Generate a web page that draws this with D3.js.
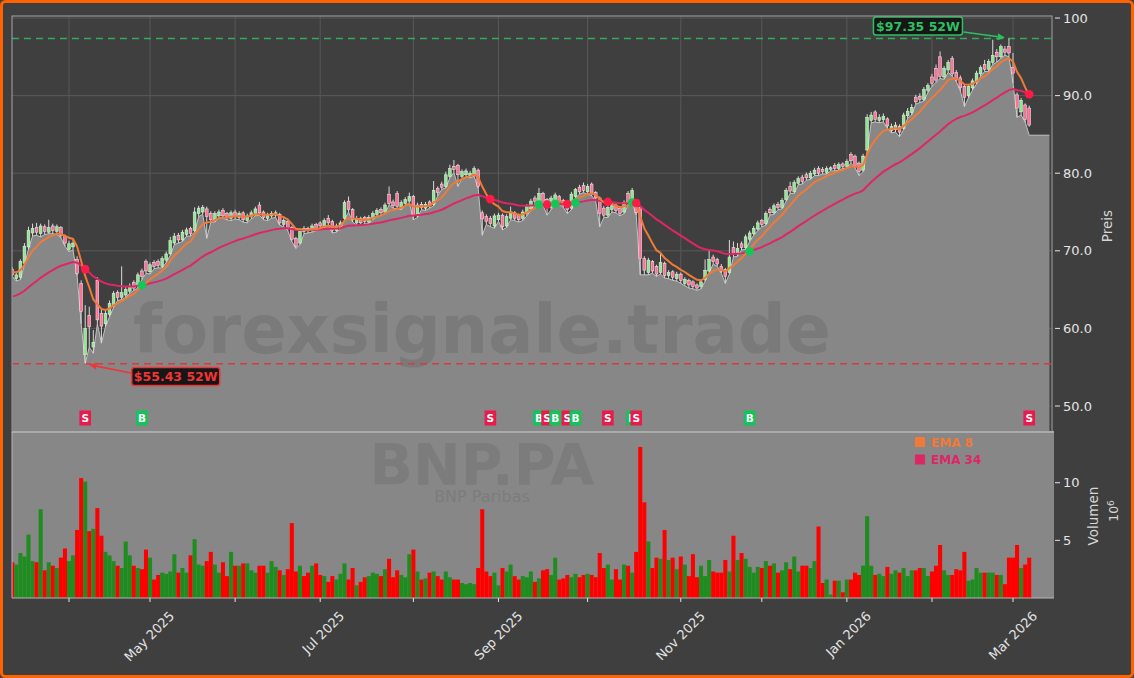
<!DOCTYPE html>
<html>
<head>
<meta charset="utf-8">
<script src="https://cdn.jsdelivr.net/npm/d3@7"></script>
<style>
  html, body { margin: 0; padding: 0; background: #3f3f3f; }
  #graph { width: 1134px; height: 678px; }
</style>
</head>
<body>
<div id="graph"></div>
<script>
///////////////////////////////////////////////////////////////////////////////
// Data (BNP.PA daily) //////////////////////////////////
///////////////////////////////////////////////////////////////////////////////

const firstDay = "2025-03-12";
const holidays = ["2025-04-18", "2025-04-21", "2025-05-01", "2025-12-25", "2025-12-26", "2026-01-01"];

const opens = [
  67.6, 66.4, 66.6, 68.4, 70.5, 72.3, 73.0, 72.2, 73.1, 72.4,
  73.2, 72.5, 73.0, 71.9, 70.2, 70.5, 68.9, 65.8, 56.6, 61.7,
  57.6, 66.2, 61.9, 60.6, 61.8, 63.0, 64.6, 64.0, 64.3, 64.8,
  65.9, 65.4, 67.4, 68.6, 67.3, 68.5, 68.6, 68.0, 68.8, 69.6,
  71.0, 72.0, 71.4, 72.1, 72.9, 72.6, 74.8, 75.0, 75.4, 74.8,
  74.0, 74.5, 75.2, 74.8, 74.2, 75.0, 74.3, 74.9, 73.9, 74.4,
  74.8, 75.9, 75.0, 74.2, 74.5, 74.6, 74.7, 73.4, 73.8, 73.0,
  71.6, 71.0, 72.9, 72.9, 72.6, 73.4, 73.6, 73.2, 74.2, 73.8,
  72.6, 73.0, 74.2, 76.4, 75.3, 73.6, 74.2, 74.3, 73.7, 74.2,
  74.7, 75.3, 75.0, 77.3, 76.3, 77.4, 75.6, 76.1, 76.4, 77.0,
  74.5, 76.0, 75.5, 76.3, 76.0, 78.0, 78.6, 78.3, 79.6, 80.9,
  81.0, 79.6, 79.8, 79.7, 79.8, 80.4, 74.9, 74.4, 74.2, 73.2,
  74.0, 74.6, 73.2, 74.2, 74.9, 74.6, 74.2, 74.8, 75.4, 76.8,
  76.3, 77.4, 76.6, 75.6, 76.2, 77.0, 76.5, 76.0, 75.5, 77.0,
  78.2, 78.4, 77.6, 78.6, 77.5, 76.8, 75.5, 74.6, 75.3, 75.9,
  75.5, 75.0, 77.4, 76.5, 76.0, 75.6, 69.0, 67.2, 68.6, 68.0,
  67.2, 68.4, 66.8, 67.3, 66.4, 67.0, 65.8, 66.2, 66.0, 65.6,
  65.4, 66.3, 67.4, 69.2, 68.9, 68.0, 67.6, 67.2, 70.4, 69.6,
  70.9, 70.4, 71.5, 72.2, 72.8, 73.9, 73.5, 75.3, 74.9, 76.0,
  75.6, 76.6, 78.3, 77.6, 78.7, 79.5, 79.8, 79.4, 79.9, 80.6,
  80.5, 80.1, 80.5, 81.0, 80.6, 81.2, 80.9, 82.4, 82.2, 81.3,
  80.4, 83.0, 86.8, 87.9, 86.8, 86.9, 87.0, 85.5, 85.6, 86.0,
  85.8, 87.4, 87.8, 89.8, 89.9, 89.5, 90.7, 92.4, 93.5, 95.0,
  92.4, 93.3, 94.8, 93.0, 92.3, 91.2, 90.0, 91.0, 91.8, 92.8,
  94.0, 93.4, 94.3, 95.6, 95.0, 96.0, 96.3, 93.6, 90.1, 87.9,
  88.8, 88.4,
];

const highs = [
  67.9, 67.3, 68.9, 71.0, 73.1, 73.5, 73.6, 73.5, 73.4, 74.0,
  73.5, 73.4, 73.2, 72.1, 71.3, 71.4, 69.3, 66.2, 63.0, 62.8,
  59.8, 66.6, 62.5, 62.4, 63.6, 64.8, 64.9, 68.0, 65.4, 65.8,
  66.2, 67.2, 67.7, 68.9, 68.5, 68.8, 68.9, 69.3, 69.9, 71.8,
  72.3, 72.3, 72.7, 73.0, 73.1, 75.6, 75.8, 75.9, 75.7, 75.1,
  75.1, 75.3, 75.5, 75.0, 75.2, 75.3, 75.1, 75.1, 74.8, 75.2,
  75.7, 76.3, 75.2, 74.9, 75.1, 75.2, 74.9, 74.2, 74.0, 73.2,
  71.8, 72.9, 73.2, 73.1, 73.5, 73.6, 73.8, 74.2, 74.6, 74.0,
  73.5, 73.9, 76.5, 77.0, 75.5, 74.5, 74.4, 74.5, 74.6, 75.1,
  75.5, 75.6, 76.2, 78.3, 76.6, 77.7, 76.5, 76.9, 77.5, 77.2,
  76.2, 76.3, 76.3, 76.5, 79.0, 78.3, 78.9, 80.2, 81.1, 81.7,
  81.2, 80.5, 80.6, 80.3, 80.9, 80.6, 75.2, 74.7, 74.5, 74.8,
  74.9, 74.8, 74.7, 75.7, 75.1, 74.8, 75.3, 76.0, 76.7, 77.1,
  78.1, 77.6, 76.8, 77.1, 77.5, 77.2, 76.7, 76.2, 77.6, 78.1,
  78.5, 78.8, 78.6, 78.8, 77.7, 77.0, 75.8, 75.9, 76.1, 76.1,
  75.7, 76.5, 77.7, 78.1, 76.2, 75.8, 69.3, 69.1, 68.8, 68.2,
  69.7, 68.6, 67.5, 67.5, 67.3, 67.2, 66.6, 66.4, 66.2, 65.8,
  66.3, 68.9, 70.1, 69.5, 69.1, 68.3, 67.8, 71.4, 71.2, 71.0,
  71.2, 72.1, 72.6, 73.2, 73.9, 74.1, 75.1, 75.6, 76.1, 76.3,
  76.8, 78.1, 78.9, 79.1, 79.6, 79.8, 80.1, 80.3, 80.7, 80.9,
  80.8, 80.9, 80.9, 81.3, 81.4, 81.4, 81.8, 82.7, 82.4, 81.5,
  82.5, 87.6, 87.9, 88.1, 87.6, 87.7, 87.2, 86.4, 86.6, 86.3,
  87.8, 88.4, 88.9, 90.1, 90.3, 91.1, 91.6, 92.8, 94.0, 95.7,
  93.8, 94.6, 95.1, 93.3, 92.6, 91.5, 91.5, 92.2, 93.2, 93.9,
  94.6, 94.7, 97.2, 96.0, 96.6, 96.4, 97.35, 95.5, 90.4, 89.7,
  89.0, 88.7,
];

const lows = [
  66.7, 66.1, 66.3, 68.2, 70.2, 71.9, 72.0, 71.8, 72.1, 72.2,
  72.2, 72.1, 71.7, 70.6, 69.9, 70.1, 66.8, 60.6, 55.43, 57.6,
  56.8, 60.6, 58.1, 60.2, 61.5, 62.7, 63.6, 63.7, 64.0, 64.5,
  64.9, 65.2, 66.3, 67.1, 67.0, 67.7, 67.8, 67.8, 68.5, 69.4,
  70.8, 71.0, 71.2, 71.9, 71.9, 72.4, 74.4, 74.7, 71.6, 73.7,
  73.7, 74.2, 74.2, 74.0, 73.9, 74.1, 74.0, 73.7, 73.6, 74.1,
  74.5, 74.6, 74.0, 73.9, 74.2, 74.3, 73.3, 73.1, 72.6, 71.2,
  70.3, 70.8, 72.2, 72.3, 72.4, 72.6, 72.9, 73.0, 73.3, 72.3,
  72.4, 72.8, 74.0, 75.0, 73.7, 73.3, 73.3, 73.5, 73.5, 74.0,
  74.4, 74.6, 74.8, 75.9, 75.5, 75.4, 75.3, 75.8, 76.2, 74.0,
  74.3, 75.3, 75.2, 75.5, 75.8, 77.1, 77.9, 78.1, 79.4, 80.1,
  78.3, 79.3, 79.5, 79.4, 79.6, 78.0, 72.0, 73.4, 73.1, 72.9,
  73.8, 72.7, 73.0, 74.0, 73.9, 73.7, 73.9, 74.5, 75.2, 76.1,
  76.0, 75.9, 74.6, 75.3, 75.9, 76.0, 75.6, 74.8, 75.3, 76.8,
  77.3, 77.5, 77.3, 77.1, 76.4, 73.1, 74.3, 74.3, 75.0, 74.9,
  74.5, 74.8, 75.9, 76.2, 74.6, 66.9, 66.9, 66.9, 67.1, 66.7,
  67.0, 66.5, 66.4, 66.2, 66.1, 65.8, 65.5, 65.2, 65.1, 64.9,
  65.1, 66.1, 67.2, 68.3, 68.0, 67.1, 65.8, 67.0, 69.2, 69.3,
  70.1, 70.2, 71.2, 72.0, 72.6, 73.1, 73.3, 74.6, 74.7, 75.3,
  75.4, 76.4, 77.4, 77.4, 78.5, 78.6, 79.1, 79.2, 79.7, 79.7,
  79.9, 79.9, 80.3, 80.3, 80.4, 80.6, 80.7, 81.3, 80.7, 79.7,
  80.2, 82.8, 86.5, 86.6, 86.5, 86.6, 85.8, 85.2, 85.3, 84.7,
  85.6, 87.1, 87.5, 88.9, 89.1, 89.3, 90.4, 91.2, 91.7, 92.2,
  92.1, 93.0, 92.5, 91.8, 90.6, 88.6, 89.7, 90.7, 91.5, 92.5,
  93.1, 93.1, 94.0, 94.3, 94.8, 95.2, 95.0, 91.6, 87.2, 87.5,
  86.6, 86.0,
];

const closes = [
  66.9, 66.9, 68.6, 70.6, 72.6, 72.9, 72.4, 73.2, 72.5, 73.0,
  72.6, 73.1, 72.0, 71.0, 70.9, 71.0, 67.1, 62.2, 60.0, 60.2,
  58.2, 61.1, 60.3, 61.9, 63.2, 64.5, 64.0, 64.6, 65.0, 65.4,
  65.2, 66.9, 66.7, 67.4, 68.2, 68.0, 68.1, 69.0, 69.6, 71.3,
  71.9, 71.4, 72.4, 72.7, 72.2, 75.0, 75.5, 75.6, 74.4, 74.0,
  74.8, 75.0, 74.5, 74.3, 74.9, 74.4, 74.8, 74.0, 74.5, 74.9,
  75.4, 74.9, 74.3, 74.6, 74.8, 74.9, 73.6, 73.9, 72.9, 71.5,
  70.6, 72.6, 72.5, 72.6, 73.2, 72.9, 73.2, 73.9, 73.6, 72.6,
  73.2, 73.6, 76.2, 75.3, 74.0, 74.1, 73.6, 73.8, 74.3, 74.8,
  75.2, 74.9, 75.9, 76.1, 75.8, 75.7, 76.2, 76.6, 77.0, 74.5,
  75.9, 75.6, 76.0, 75.8, 77.8, 77.5, 78.2, 79.8, 80.6, 80.5,
  79.8, 80.2, 80.3, 80.0, 80.6, 78.3, 74.1, 73.8, 73.5, 74.5,
  74.6, 73.1, 74.4, 75.0, 74.2, 74.0, 75.0, 75.7, 76.4, 76.4,
  77.4, 76.2, 75.8, 76.8, 77.2, 76.3, 75.9, 75.3, 77.3, 77.9,
  77.6, 77.8, 78.3, 77.4, 76.8, 74.8, 74.6, 75.6, 75.8, 75.2,
  74.8, 76.2, 76.2, 77.8, 74.9, 69.0, 67.5, 68.8, 67.4, 67.0,
  68.5, 66.8, 67.2, 66.6, 67.0, 66.2, 66.3, 65.6, 65.4, 65.2,
  66.0, 67.5, 68.9, 68.6, 68.3, 67.4, 66.7, 69.2, 69.5, 70.3,
  70.4, 71.8, 72.3, 72.9, 73.6, 73.4, 74.8, 74.9, 75.8, 75.6,
  76.5, 77.8, 77.7, 78.8, 79.3, 78.9, 79.4, 80.0, 80.4, 80.0,
  80.2, 80.6, 80.7, 80.6, 81.1, 80.9, 81.5, 81.6, 81.0, 80.2,
  82.2, 87.2, 87.5, 86.9, 87.2, 87.3, 86.1, 86.0, 86.2, 85.3,
  87.5, 88.0, 88.5, 89.2, 89.5, 90.8, 91.3, 91.6, 92.0, 92.5,
  93.5, 94.3, 92.8, 92.2, 91.0, 89.8, 91.2, 91.9, 92.9, 93.6,
  93.4, 94.4, 95.2, 95.0, 96.3, 95.6, 95.5, 92.9, 88.4, 89.4,
  86.9, 86.2,
];

// Volume in millions of shares
const volumes = [
  3.1, 2.9, 3.9, 3.6, 5.5, 3.2, 3.1, 7.7, 2.4, 3.1,
  2.8, 2.6, 3.5, 4.3, 3.2, 3.7, 5.9, 10.4, 10.1, 5.8,
  6.0, 7.8, 5.4, 4.0, 3.7, 3.2, 2.8, 2.6, 4.9, 3.7,
  2.8, 2.6, 2.5, 4.2, 3.5, 1.6, 2.0, 2.2, 2.1, 2.3,
  3.8, 2.2, 2.6, 2.2, 3.7, 5.1, 2.9, 2.8, 3.2, 4.0,
  2.9, 2.2, 3.1, 1.9, 4.0, 2.8, 2.8, 3.0, 3.0, 2.4,
  2.2, 2.8, 2.8, 2.2, 3.2, 2.7, 2.4, 2.0, 2.5, 6.5,
  2.3, 2.8, 1.9, 2.2, 2.8, 3.0, 2.0, 1.9, 1.4, 1.9,
  1.6, 2.1, 3.0, 1.6, 2.6, 1.1, 1.4, 1.8, 1.9, 2.2,
  2.1, 1.9, 2.5, 3.4, 1.8, 2.4, 2.0, 1.8, 3.8, 4.2,
  2.3, 1.6, 1.7, 2.2, 2.3, 1.9, 1.6, 2.3, 1.8, 1.6,
  1.6, 1.3, 1.2, 1.3, 1.2, 2.6, 7.7, 2.3, 1.9, 2.2,
  1.1, 2.6, 2.3, 2.9, 1.9, 1.6, 1.9, 1.8, 2.3, 1.4,
  1.7, 2.4, 2.5, 2.0, 3.5, 1.6, 1.7, 2.0, 1.8, 2.1,
  1.8, 2.0, 2.1, 2.0, 1.8, 3.9, 2.6, 2.9, 1.6, 2.5,
  1.6, 2.9, 2.8, 2.2, 4.0, 13.1, 8.3, 4.9, 2.6, 3.5,
  3.4, 5.9, 3.3, 3.5, 2.5, 3.6, 2.9, 1.9, 3.8, 1.8,
  2.8, 1.9, 3.3, 2.3, 2.2, 2.2, 3.3, 2.3, 5.4, 3.3,
  3.9, 3.4, 2.7, 2.2, 2.7, 2.6, 3.2, 2.8, 3.0, 2.2,
  2.4, 3.1, 2.5, 3.6, 2.3, 2.8, 2.8, 2.6, 3.2, 6.2,
  1.3, 1.6, 0.3, 1.5, 1.5, 0.5, 1.6, 1.6, 2.2, 2.0,
  2.8, 7.1, 2.8, 2.0, 2.1, 1.9, 2.7, 2.1, 2.4, 2.2,
  2.6, 1.9, 2.4, 2.4, 2.6, 2.6, 1.9, 2.3, 2.8, 4.6,
  2.4, 2.0, 2.0, 2.5, 2.4, 4.0, 1.5, 1.6, 2.6, 2.2,
  2.2, 2.2, 2.2, 2.0, 2.0, 1.2, 3.5, 3.5, 4.6, 2.6,
  2.9, 3.5,
];

// Latest quote, where the shaded area ends on the right
const lastQuote = 84.9;

// EMA values carried in from before the window (left edge of the picture)
const emaFastSeed = 67.3;
const emaSlowSeed = 64.1;

// Trading-day indices of the crossover signals
const sellSignals = [18, 118, 132, 137, 147, 154, 251];
const buySignals = [32, 130, 134, 139, 153, 182];

const priceTicks = [50, 60, 70, 80, 90, 100];
const volumeTicks = [5, 10];

///////////////////////////////////////////////////////////////////////////////
// Layout /////////////////////////////////////////////////////////////////////
///////////////////////////////////////////////////////////////////////////////

const W = 1134;
const H = 678;
const panel = { left: 12, right: 1052, top: 16, split: 432, bottom: 598 };
const slot = 4.0515; // px per trading day

const colors = {
  bg: "#3f3f3f",
  shade: "#878787",
  grid: "#595959",
  frame: "#a3a3a3",
  text: "#e4e4e4",
  emaFast: "#f07a36",
  emaSlow: "#de2667",
  up: "#8fe88f",
  down: "#ff7096",
  volUp: "#1f8c1f",
  volDown: "#ff0000",
  buy: "#12c45a",
  sell: "#ea1a4c",
  high: "#2fbf63",
  low: "#f03535",
};

const font = "'DejaVu Sans', Verdana, sans-serif";

/**
 * Weekdays from `from`, skipping exchange holidays, until `count` are found.
 */
function tradingDays(from, count) {
  const skip = new Set(holidays);
  const days = [];
  const d = new Date(from + "T00:00:00Z");
  while (days.length < count) {
    const wd = d.getUTCDay();
    if (wd !== 0 && wd !== 6 && !skip.has(d.toISOString().slice(0, 10))) {
      days.push(new Date(d));
    }
    d.setUTCDate(d.getUTCDate() + 1);
  }
  return days;
}

function ema(values, period, seed) {
  const k = 2 / (period + 1);
  let prev = seed;
  return values.map((v, i) => (prev = i === 0 ? seed : prev + k * (v - prev)));
}

const dates = tradingDays(firstDay, closes.length);
const rows = closes.map((c, i) => ({
  i,
  o: opens[i],
  h: highs[i],
  l: lows[i],
  c,
  v: volumes[i],
  up: c >= opens[i],
}));
const emaFast = ema(closes, 8, emaFastSeed);
const emaSlow = ema(closes, 34, emaSlowSeed);

// First trading day of each month (index 0 is mid-month, so skip it)
const monthStarts = dates
  .map((d, i) => ({ d, i }))
  .filter(({ d, i }) => i > 0 && d.getUTCMonth() !== dates[i - 1].getUTCMonth());

const x = d3.scaleLinear().domain([0, 256]).range([12.28, 12.28 + 256 * slot]);
const yPrice = d3.scaleLinear().domain([46.65, 100.26]).range([panel.split, panel.top]);
const yVol = d3.scaleLinear().domain([0, 14.4]).range([panel.bottom, panel.split]);

///////////////////////////////////////////////////////////////////////////////
// Drawing ////////////////////////////////////////////////////////////////////
///////////////////////////////////////////////////////////////////////////////

const svg = d3
  .select("#graph")
  .append("svg")
  .attr("width", W)
  .attr("height", H)
  .style("font-family", font);

// Orange outer frame
svg
  .append("rect")
  .attr("x", 1.5)
  .attr("y", 1.5)
  .attr("width", W - 3)
  .attr("height", H - 3)
  .attr("rx", 4)
  .style("fill", colors.bg)
  .style("stroke", "#ff6200")
  .style("stroke-width", 3);

const defs = svg.append("defs");
defs
  .append("clipPath")
  .attr("id", "priceClip")
  .append("rect")
  .attr("x", panel.left)
  .attr("y", panel.top)
  .attr("width", panel.right - panel.left)
  .attr("height", panel.split - panel.top);
defs
  .append("clipPath")
  .attr("id", "volClip")
  .append("rect")
  .attr("x", panel.left)
  .attr("y", panel.split)
  .attr("width", panel.right + 2 - panel.left)
  .attr("height", panel.bottom - panel.split);

[["arrowHigh", colors.high], ["arrowLow", colors.low]].forEach(([id, c]) => {
  defs
    .append("marker")
    .attr("id", id)
    .attr("viewBox", "0 0 10 10")
    .attr("refX", 9)
    .attr("refY", 5)
    .attr("markerWidth", 7)
    .attr("markerHeight", 7)
    .attr("markerUnits", "userSpaceOnUse")
    .attr("orient", "auto")
    .append("path")
    .attr("d", "M0,0 L10,5 L0,10 z")
    .style("fill", c);
});

// ---- Price panel ------------------------------------------------------------
const price = svg.append("g").attr("clip-path", "url(#priceClip)");

// Grid
price
  .selectAll(".hgrid")
  .data(priceTicks)
  .enter()
  .append("line")
  .attr("x1", panel.left)
  .attr("x2", panel.right)
  .attr("y1", d => yPrice(d))
  .attr("y2", d => yPrice(d))
  .style("stroke", colors.grid)
  .style("stroke-width", 1);
price
  .selectAll(".vgrid")
  .data(monthStarts)
  .enter()
  .append("line")
  .attr("x1", d => x(d.i))
  .attr("x2", d => x(d.i))
  .attr("y1", panel.top)
  .attr("y2", panel.split)
  .style("stroke", colors.grid)
  .style("stroke-width", 1);

// Shaded area under the daily lows, flat after the last quote
const areaPts = rows.slice(0, -1).map(d => [d.i, d.l]);
areaPts.push([rows.length - 1, lastQuote], [256, lastQuote]);
price
  .append("path")
  .datum(areaPts)
  .attr(
    "d",
    d3
      .area()
      .x(d => x(d[0]))
      .y0(panel.split)
      .y1(d => yPrice(d[1]))
  )
  .style("fill", colors.shade);
price
  .append("path")
  .datum(areaPts)
  .attr(
    "d",
    d3
      .line()
      .x(d => x(d[0]))
      .y(d => yPrice(d[1]))
  )
  .style("fill", "none")
  .style("stroke", "#c2c2c2")
  .style("stroke-width", 1);

// Watermark
price
  .append("text")
  .attr("x", 482)
  .attr("y", 353)
  .attr("text-anchor", "middle")
  .style("font-size", "67px")
  .style("font-weight", "bold")
  .style("fill", "#7a7a7a")
  .text("forexsignale.trade");

// 52-week high / low dashed lines
const hiIdx = d3.maxIndex(highs);
const loIdx = d3.minIndex(lows);
[
  [highs[hiIdx], colors.high, 0.85],
  [lows[loIdx], "#dc3b3b", 1],
].forEach(([v, c, op]) => {
  price
    .append("line")
    .attr("x1", panel.left)
    .attr("x2", panel.right)
    .attr("y1", yPrice(v))
    .attr("y2", yPrice(v))
    .style("stroke", c)
    .style("stroke-width", 1.5)
    .style("stroke-dasharray", "7,5")
    .style("opacity", op);
});

// Candles
const candle = price
  .selectAll(".candle")
  .data(rows)
  .enter()
  .append("g")
  .attr("class", "candle");
candle
  .append("line")
  .attr("x1", d => x(d.i))
  .attr("x2", d => x(d.i))
  .attr("y1", d => yPrice(d.h))
  .attr("y2", d => yPrice(d.l))
  .style("stroke", "#d9d9d9")
  .style("stroke-width", 1);
candle
  .append("rect")
  .attr("x", d => x(d.i) - 1.4)
  .attr("width", 2.8)
  .attr("y", d => yPrice(Math.max(d.o, d.c)))
  .attr("height", d => Math.max(0.8, Math.abs(yPrice(d.o) - yPrice(d.c))))
  .style("fill", d => (d.up ? colors.up : colors.down))
  .style("stroke", "#f2f2f2")
  .style("stroke-width", 0.5);

// EMA lines
const emaLine = d3
  .line()
  .x((d, i) => x(i))
  .y(d => yPrice(d));
price
  .append("path")
  .datum(emaSlow)
  .attr("d", emaLine)
  .style("fill", "none")
  .style("stroke", colors.emaSlow)
  .style("stroke-width", 2);
price
  .append("path")
  .datum(emaFast)
  .attr("d", emaLine)
  .style("fill", "none")
  .style("stroke", colors.emaFast)
  .style("stroke-width", 2);

// Signals: dot on the crossing, tagged box near the bottom
const signals = sellSignals
  .map(i => ({ i, kind: "S" }))
  .concat(buySignals.map(i => ({ i, kind: "B" })))
  .sort((a, b) => a.i - b.i);

price
  .selectAll(".dot")
  .data(signals)
  .enter()
  .append("circle")
  .attr("cx", d => x(d.i))
  .attr("cy", d => yPrice(emaSlow[d.i]))
  .attr("r", 4.3)
  .style("fill", d => (d.kind === "S" ? "#ff1a48" : "#10c858"));

const tag = price
  .selectAll(".tag")
  .data(signals)
  .enter()
  .append("g")
  .attr("transform", d => `translate(${x(d.i)}, 418)`);
tag
  .append("rect")
  .attr("x", -5.8)
  .attr("y", -7.5)
  .attr("width", 11.6)
  .attr("height", 15)
  .style("fill", d => (d.kind === "S" ? colors.sell : colors.buy));
tag
  .append("text")
  .attr("dy", "0.36em")
  .attr("text-anchor", "middle")
  .style("font-size", "10.5px")
  .style("font-weight", "bold")
  .style("fill", "white")
  .text(d => d.kind);

// ---- 52W annotations ------------------------------------------------------
function annotate(idx, value, dx, dy, color, arrowId, w) {
  const px = x(idx);
  const py = yPrice(value);
  const cx = px + dx;
  const cy = py + dy;
  const startX = dx < 0 ? cx + w / 2 + 1 : cx - w / 2 - 1;
  const startY = dx < 0 ? cy + 6 : cy - 3.5;
  svg
    .append("line")
    .attr("x1", startX)
    .attr("y1", startY)
    .attr("x2", px + (dx < 0 ? -5 : 5))
    .attr("y2", py - (dx < 0 ? 1 : -1))
    .attr("marker-end", `url(#${arrowId})`)
    .style("stroke", color)
    .style("stroke-width", 1.6);
  svg
    .append("rect")
    .attr("x", cx - w / 2)
    .attr("y", cy - 9)
    .attr("width", w)
    .attr("height", 18)
    .attr("rx", 2.5)
    .style("fill", "#161616")
    .style("stroke", color)
    .style("stroke-width", 1.5);
  svg
    .append("text")
    .attr("x", cx)
    .attr("y", cy)
    .attr("dy", "0.36em")
    .attr("text-anchor", "middle")
    .style("font-size", "12.5px")
    .style("font-weight", "bold")
    .style("fill", color)
    .text(`$${value.toFixed(2)} 52W`);
}
annotate(hiIdx, highs[hiIdx], -91, -12.5, colors.high, "arrowHigh", 89);
annotate(loIdx, lows[loIdx], 90.5, 12.7, colors.low, "arrowLow", 88);

// Price panel frame
svg
  .append("rect")
  .attr("x", panel.left)
  .attr("y", panel.top)
  .attr("width", panel.right - panel.left)
  .attr("height", panel.split - panel.top)
  .style("fill", "none")
  .style("stroke", colors.frame)
  .style("stroke-width", 1);

// ---- Volume panel ---------------------------------------------------------
svg
  .append("rect")
  .attr("x", panel.left)
  .attr("y", panel.split)
  .attr("width", panel.right + 2 - panel.left)
  .attr("height", panel.bottom - panel.split)
  .style("fill", colors.shade);

const vol = svg.append("g").attr("clip-path", "url(#volClip)");

vol
  .append("text")
  .attr("x", 482)
  .attr("y", 485)
  .attr("text-anchor", "middle")
  .style("font-size", "57px")
  .style("font-weight", "bold")
  .style("fill", "#7c7c7c")
  .text("BNP.PA");
vol
  .append("text")
  .attr("x", 482)
  .attr("y", 502)
  .attr("text-anchor", "middle")
  .style("font-size", "16px")
  .style("fill", "#7c7c7c")
  .text("BNP Paribas");

vol
  .selectAll(".vbar")
  .data(rows)
  .enter()
  .append("rect")
  .attr("x", d => x(d.i) - slot / 2)
  .attr("width", slot)
  .attr("y", d => yVol(d.v))
  .attr("height", d => yVol(0) - yVol(d.v))
  .style("fill", d => (d.up ? colors.volUp : colors.volDown));

// Legend
const legend = svg.append("g").attr("transform", "translate(915, 437)");
[
  ["EMA 8", colors.emaFast],
  ["EMA 34", colors.emaSlow],
].forEach(([label, c], k) => {
  legend
    .append("rect")
    .attr("x", 0)
    .attr("y", k * 17.5)
    .attr("width", 10)
    .attr("height", 10)
    .style("fill", c);
  legend
    .append("text")
    .attr("x", 16)
    .attr("y", k * 17.5 + 9.5)
    .style("font-size", "12px")
    .style("font-weight", "bold")
    .style("fill", c)
    .text(label);
});

// Panel edges
svg
  .append("line")
  .attr("x1", panel.left)
  .attr("x2", panel.right + 2)
  .attr("y1", panel.split)
  .attr("y2", panel.split)
  .style("stroke", "#ababab")
  .style("stroke-width", 2);
svg
  .append("path")
  .attr(
    "d",
    `M${panel.left},${panel.split} V${panel.bottom} H${panel.right + 2}`
  )
  .style("fill", "none")
  .style("stroke", "#b5b5b5")
  .style("stroke-width", 1);

// ---- Axes ---------------------------------------------------------------
const axisRight = svg.append("g").style("fill", colors.text);
const priceFmt = d => (d >= 100 ? String(d) : d.toFixed(1));
priceTicks.forEach(t => {
  axisRight
    .append("line")
    .attr("x1", 1055)
    .attr("x2", 1060)
    .attr("y1", yPrice(t))
    .attr("y2", yPrice(t))
    .style("stroke", colors.text);
  axisRight
    .append("text")
    .attr("x", 1063)
    .attr("y", yPrice(t))
    .attr("dy", "0.36em")
    .style("font-size", "13px")
    .text(priceFmt(t));
});
volumeTicks.forEach(t => {
  axisRight
    .append("line")
    .attr("x1", 1055)
    .attr("x2", 1060)
    .attr("y1", yVol(t))
    .attr("y2", yVol(t))
    .style("stroke", colors.text);
  axisRight
    .append("text")
    .attr("x", 1063)
    .attr("y", yVol(t))
    .attr("dy", "0.36em")
    .style("font-size", "13px")
    .text(t);
});

axisRight
  .append("text")
  .attr("transform", "translate(1112, 226) rotate(-90)")
  .attr("text-anchor", "middle")
  .style("font-size", "13.5px")
  .style("fill", "#d6d6d6")
  .text("Preis");
axisRight
  .append("text")
  .attr("transform", "translate(1098, 516) rotate(-90)")
  .attr("text-anchor", "middle")
  .style("font-size", "13.5px")
  .style("fill", "#d6d6d6")
  .text("Volumen");
const exp = axisRight
  .append("text")
  .attr("transform", "translate(1118, 511) rotate(-90)")
  .attr("text-anchor", "middle")
  .style("font-size", "12.5px")
  .style("fill", "#d6d6d6");
exp.append("tspan").text("10");
exp
  .append("tspan")
  .attr("dy", "-0.45em")
  .style("font-size", "9px")
  .text("6");

// Month ticks under the volume panel, every other one labelled
const fmtMonth = d3.utcFormat("%b %Y");
const xAxis = svg.append("g");
monthStarts.forEach(({ d, i }) => {
  xAxis
    .append("line")
    .attr("x1", x(i))
    .attr("x2", x(i))
    .attr("y1", panel.bottom)
    .attr("y2", panel.bottom + 4)
    .style("stroke", colors.text);
  if (d.getUTCMonth() % 2 === 0) {
    xAxis
      .append("text")
      .attr("transform", `translate(${x(i) + 25}, 617) rotate(-45)`)
      .attr("text-anchor", "end")
      .style("font-size", "13px")
      .style("fill", colors.text)
      .text(fmtMonth(d));
  }
});
</script>
</body>
</html>
